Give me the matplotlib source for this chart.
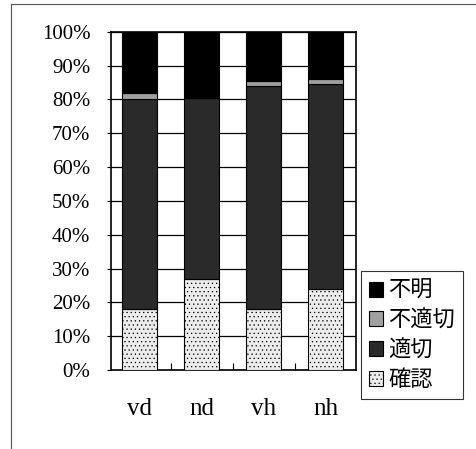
import matplotlib
matplotlib.use("Agg")
import matplotlib.pyplot as plt
from matplotlib.lines import Line2D
import numpy as np

# ── Data (percent of each group) ──────────────────────────────────────
groups = ["vd", "nd", "vh", "nh"]
kakunin = [18, 27, 18, 24]          # 確認
tekisetsu = [62, 53.5, 66, 60.5]    # 適切
futekisetsu = [2, 0, 1.5, 1.5]      # 不適切
fumei = [18, 19.5, 14.5, 14]        # 不明

series = [
    ("確認", kakunin, "#ececec", "...."),
    ("適切", tekisetsu, "#2a2a2a", None),
    ("不適切", futekisetsu, "#a0a0a0", None),
    ("不明", fumei, "#000000", None),
]

plt.rcParams["hatch.linewidth"] = 0.4
plt.rcParams["hatch.color"] = "#8a8a8a"

fig = plt.figure(figsize=(4.77, 4.49), dpi=100)
ax = fig.add_axes([0.233, 0.176, 0.513, 0.753])

x = np.arange(len(groups))
bottom = np.zeros(len(groups))
handles = []
for name, vals, color, hatch in series:
    vals = np.array(vals, dtype=float)
    b = ax.bar(x, vals, 0.56, bottom=bottom, color=color, hatch=hatch,
               edgecolor="black", linewidth=0.8, label=name, zorder=3)
    handles.append(b)
    bottom += vals

ax.set_xlim(-0.46, 3.49)
ax.set_ylim(0, 100)
ax.set_yticks(np.arange(0, 101, 10))
ax.set_yticklabels([f"{v}%" for v in range(0, 101, 10)],
                   fontfamily="Liberation Serif", fontsize=15)
ax.yaxis.grid(True, color="black", linewidth=0.9, zorder=0)
ax.tick_params(axis="y", length=3, width=0.8, direction="out", pad=12)

ax.set_xticks(x)
ax.set_xticklabels(groups, fontfamily="Liberation Serif", fontsize=18)
ax.tick_params(axis="x", length=0, pad=20)
ax.set_xticks([0.5, 1.5, 2.5], minor=True)
ax.tick_params(axis="x", which="minor", length=5, width=0.8, direction="in")

for s in ax.spines.values():
    s.set_linewidth(1.2)

leg = ax.legend(handles[::-1], [s[0] for s in series[::-1]],
                loc="lower left", bbox_to_anchor=(1.02, -0.085),
                prop={"family": ["Noto Sans CJK JP", "DejaVu Sans"], "size": 16},
                frameon=True, fancybox=False, edgecolor="black",
                handlelength=0.65, handleheight=0.65, handletextpad=0.25,
                labelspacing=0.3, borderpad=0.35, borderaxespad=0)
leg.get_frame().set_linewidth(0.8)

# thin outer border (left and top edges only, as in the scan)
fig.add_artist(Line2D([0.023, 0.023], [0.0, 0.991], transform=fig.transFigure,
                      color="#555555", linewidth=0.8))
fig.add_artist(Line2D([0.023, 1.0], [0.991, 0.991], transform=fig.transFigure,
                      color="#555555", linewidth=0.8))

fig.savefig("out.png", dpi=100)
